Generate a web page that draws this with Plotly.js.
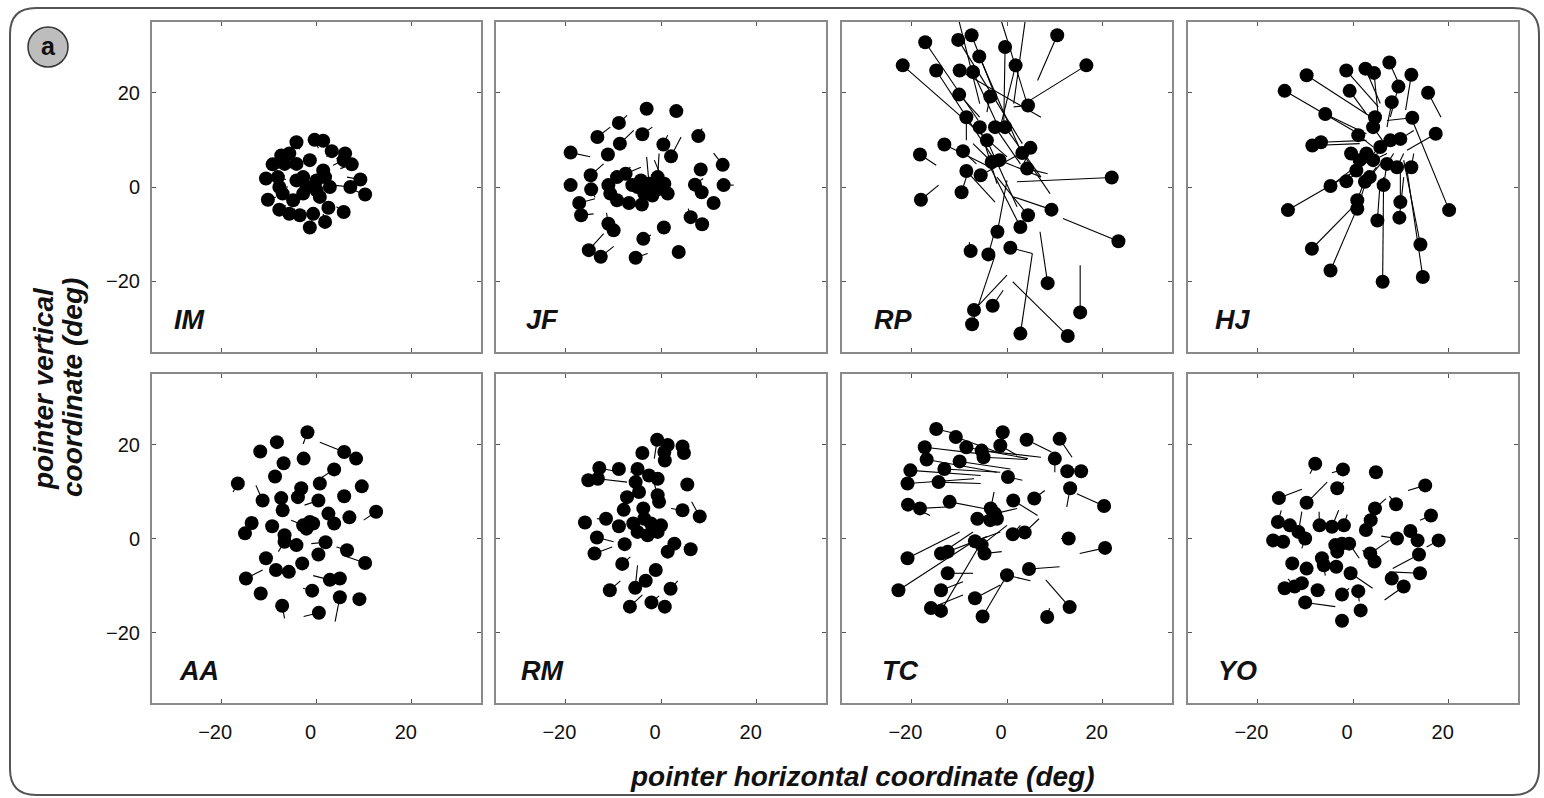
<!DOCTYPE html>
<html>
<head>
<meta charset="utf-8">
<script src="https://cdn.plot.ly/plotly-3.0.1.min.js"></script>
<style>html,body{margin:0;padding:0;background:#fff;}#chart{width:1544px;height:798px;}</style>
</head>
<body>
<div id="chart"></div>
<script>
// ---------------- DATA (degrees) : dot position (x,y) and line end (ex,ey) ----------------
const panelNames = ['IM','JF','RP','HJ','AA','RM','TC','YO'];
const tickValues = [-20, 0, 20];

const IM_x  = [-4.2,-0.4,1.4,3.2,6.0,7.4,5.7,-7.4,-5.7,-9.2,-6.7,-4.2,-1.4,1.4,-10.6,-8.1,-2.8,0,1.8,9.2,7.1,10.2,-10.2,-7.8,-4.9,-2.1,0,2.8,-7.8,-5.7,-3.5,-0.7,2.5,5.7,1.8,-1.4,-2.8,-4.2,-7.1,0.7];
const IM_y  = [9.5,10.0,9.8,7.6,7.1,4.8,5.7,6.7,7.1,4.8,4.9,4.9,5.7,3.5,1.8,2.1,2.1,1.4,2.1,1.6,0,-1.6,-2.7,0,-2.8,0,-0.7,0,-4.8,-5.7,-6.0,-5.7,-4.4,-5.3,-7.4,-8.6,-1.4,1.4,-1.4,-2.1];
const IM_ex = [-3.5,0.4,1.0,2.1,4.2,5.0,3.5,-6.0,-4.5,-7.8,-5.3,-3.2,-0.7,0.7,-9.0,-6.4,-1.8,0,1.0,6.4,3.5,7.8,-8.5,-6.0,-3.5,-1.0,0,1.8,-6.4,-4.5,-2.5,-0.4,1.8,4.2,1.4,-1.0,-1.8,-3.2,-5.7,0.4];
const IM_ey = [8.0,8.2,8.5,6.4,6.0,3.9,4.6,5.5,5.9,3.9,4.0,4.0,4.6,2.8,1.4,1.6,1.4,0.7,1.4,2.1,0.4,-0.7,-2.1,0,-2.1,0,-0.4,0,-3.9,-4.6,-4.9,-4.4,-3.5,-4.2,-5.7,-7.1,-1.0,1.0,-1.0,-1.4];

const JF_x  = [-3.0,3.2,-8.8,-13.3,-3.9,-8.6,7.8,0.5,2.1,-18.9,-11.1,12.9,8.3,-14.7,-18.9,-14.6,13.1,7.1,8.5,11.0,-17.1,-16.7,-11.0,-9.2,-7.4,-6.0,-4.2,-2.5,-0.7,0.7,1.4,-3.5,-6.7,-4.0,-9.2,-1.8,-11.0,-9.9,6.2,8.6,0.6,-3.7,-15.1,-12.6,-5.3,3.7,-10.6,-0.4,-4.9];
const JF_y  = [16.6,16.1,13.6,10.6,11.2,9.2,10.8,9.0,6.5,7.3,6.9,4.7,3.7,2.5,0.4,-0.5,0.4,0.5,-1.1,-3.4,-3.4,-6.0,0.4,2.1,2.8,0.4,1.4,0.7,2.1,0.7,-1.4,-1.4,-3.4,-3.7,-2.8,-1.8,-7.8,-9.2,-6.4,-7.9,-8.6,-11.0,-13.4,-14.8,-15.0,-13.8,-1.4,-0.4,0];
const JF_ex = [-3.0,3.2,-7.1,-10.6,-1.8,-5.7,8.6,1.4,4.2,-14.8,-11.1,11.0,8.3,-12.0,-18.9,-13.8,15.2,8.8,8.5,11.0,-13.8,-14.1,-11.0,-6.4,-4.2,-6.0,-4.2,-3.0,-0.4,-1.4,1.4,-3.5,-6.7,-4.0,-9.2,-1.8,-11.4,-9.9,5.7,8.6,0.6,-2.1,-12.0,-9.9,-2.8,3.7,-10.6,-0.4,-4.9];
const JF_ey = [16.6,16.1,15.2,12.7,12.7,12.0,12.4,11.0,10.6,6.4,6.9,7.2,3.7,4.9,0.4,-2.2,0.4,1.8,-1.1,-3.4,-2.5,-5.7,0.4,4.2,4.2,0.4,1.4,6.4,7.1,5.7,-1.4,-1.4,-3.4,-3.7,-2.8,-1.8,-5.5,-9.2,-4.6,-7.9,-8.6,-10.2,-9.9,-12.6,-14.1,-13.8,-1.4,-0.4,0];

const RP_x  = [-17.1,-10.2,-7.4,10.5,-0.4,-5.8,-21.8,-14.8,-9.9,-7.1,1.8,16.6,-3.5,-10.0,4.4,-8.5,-5.7,-2.5,-0.4,-4.2,-13.1,-9.2,-18.2,4.9,3.2,-3.2,-1.6,-8.5,-5.5,4.2,-9.5,-18.0,21.9,9.3,4.4,2.8,-2.0,23.3,-7.6,-3.9,0.7,2.8,8.5,15.3,-6.9,-3.0,-7.3,12.7,-10.6,-2.1,4.2];
const RP_y  = [30.7,31.2,32.2,32.2,29.7,27.7,25.8,24.7,24.7,24.4,25.8,25.8,19.2,19.6,17.3,14.8,12.7,12.7,12.7,9.9,9.0,7.6,6.9,8.3,7.2,5.3,5.7,3.4,2.5,3.9,-1.1,-2.7,2.0,-4.8,-6.0,-8.5,-9.5,-11.5,-13.6,-14.3,-12.9,-31.1,-20.4,-26.6,-26.1,-25.2,-29.1,-31.6,37.5,38.2,38.2];
const RP_ex = [-6.0,3.2,-2.1,6.4,-0.7,2.8,0,-2.1,7.1,-2.1,-1.4,4.2,-4.2,-5.7,1.4,-8.5,-2.1,2.8,7.1,2.1,-3.5,-6.4,-14.8,3.2,9.0,-7.1,7.1,-2.5,2.8,8.5,-8.5,-14.3,2.1,1.4,-2.1,-3.5,0,11.7,-7.9,-2.5,5.3,5.3,6.9,15.3,0,-0.8,-2.5,1.2,-5.7,4.2,1.4];
const RP_ey = [14.1,9.2,18.4,22.6,12.0,7.8,6.4,4.9,14.8,13.4,12.7,18.0,15.9,14.8,17.0,9.9,0.7,4.9,2.1,-4.2,4.2,4.9,4.6,4.2,-1.4,9.2,2.1,-3.2,7.1,2.8,2.1,0.4,1.1,-2.1,2.1,4.2,1.4,-6.7,-11.7,-9.2,-14.1,-14.1,-9.5,-16.6,-18.7,-21.9,-14.5,-20.1,17.7,17.7,17.7];

const HJ_x  = [7.6,-1.4,2.6,4.4,12.2,-9.7,-14.3,-0.7,9.5,15.7,8.1,-5.8,4.6,12.4,4.2,1.1,17.3,-8.5,-6.7,9.9,7.8,5.7,2.8,-0.4,1.4,4.2,7.1,9.2,12.2,0.7,3.5,6.4,-1.4,-4.7,2.5,0.9,0.9,-13.6,9.9,20.1,5.1,9.7,-8.6,14.1,-4.7,6.2,14.6];
const HJ_y  = [26.4,24.7,25.1,24.2,23.8,23.7,20.4,20.4,21.3,20.0,18.0,15.5,14.8,14.7,12.7,11.0,11.3,8.8,9.5,10.2,9.9,8.5,7.1,7.1,5.7,5.7,4.9,4.2,4.2,3.5,2.1,0.4,1.2,0.2,1.1,-2.8,-4.6,-4.9,-3.2,-4.9,-7.1,-6.5,-13.1,-12.2,-17.7,-20.1,-19.1];
const HJ_ex = [9.9,5.3,5.7,5.3,11.0,4.9,0,2.8,7.8,18.4,7.1,2.8,4.2,7.1,7.1,4.2,11.3,1.4,2.8,12.7,5.7,4.2,2.8,2.8,5.3,7.1,8.5,10.6,12.7,4.2,6.4,7.1,1.4,0,4.9,3.2,2.8,0.7,9.9,12.7,5.7,10.6,0,10.6,0.7,6.4,11.3];
const HJ_ey = [21.2,17.0,17.7,14.8,16.3,14.1,12.0,15.5,14.8,14.8,12.7,11.3,12.7,14.1,8.5,8.5,7.8,9.2,9.9,12.0,8.5,7.1,7.1,5.7,7.1,7.1,7.1,7.1,7.1,6.4,5.7,4.9,3.5,3.9,4.2,3.5,1.4,3.5,4.2,13.4,1.4,2.1,-4.2,5.7,-4.9,2.1,3.5];

const AA_x  = [-1.9,-8.3,-11.8,5.8,8.3,-2.7,-6.9,3.7,-8.7,-16.5,0.7,9.5,-3.2,-11.3,-7.4,-3.9,0.4,5.8,-7.1,2.5,6.9,12.5,-13.6,-15.0,-9.3,-2.8,-1.4,-0.7,-2.1,3.7,-6.7,-6.7,-4.2,1.9,6.4,0.4,-10.6,10.2,-3.0,-8.5,-5.8,-14.8,2.8,4.9,-11.7,-0.9,4.9,9.0,-7.2,0.5];
const AA_y  = [22.6,20.5,18.5,18.4,17.0,17.0,16.0,14.7,13.2,11.7,11.7,11.1,10.7,8.1,8.6,8.8,8.1,9.0,6.0,5.3,4.5,5.7,3.3,1.1,2.6,2.8,3.5,3.2,2.1,3.2,0.7,-0.7,-1.4,-0.8,-2.5,-3.4,-4.2,-5.2,-5.3,-6.7,-7.1,-8.5,-8.8,-8.5,-11.7,-11.1,-12.5,-12.9,-14.3,-15.8];
const AA_ex = [-2.8,-8.3,-11.8,0.7,8.3,-2.7,-6.9,0.7,-8.7,-17.5,0.7,9.5,-3.2,-12.7,-7.4,-3.9,-2.5,5.8,-7.1,2.5,6.9,9.9,-13.6,-15.0,-9.3,-5.3,-1.4,-0.7,-2.1,3.7,-6.7,-8.0,-4.2,-1.1,4.2,0.4,-10.6,6.4,-3.0,-8.5,-5.8,-11.3,-0.7,4.9,-11.7,-2.8,3.9,9.0,-6.7,-2.7];
const AA_ey = [20.1,20.5,18.5,20.5,17.0,17.0,16.0,12.7,13.2,9.9,11.7,11.1,10.7,11.3,8.6,8.8,7.1,9.0,6.0,5.3,4.5,3.9,3.3,1.1,2.6,3.9,3.5,3.2,2.1,3.2,0.7,-2.8,-1.4,-1.1,-1.8,-3.4,-4.2,-3.9,-5.3,-6.7,-7.1,-6.7,-7.9,-8.5,-11.7,-10.6,-17.7,-12.9,-17.0,-16.6];

const RM_x  = [-0.8,1.4,4.5,4.8,-3.9,0.7,0.8,-12.9,-8.8,-4.9,-15.2,-13.2,-2.5,-0.7,-5.3,5.5,-4.6,-7.1,-0.7,-0.4,-7.8,-3.7,4.5,8.1,-15.9,-11.5,-8.8,-5.8,-3.5,-2.1,0,-0.7,-4.9,-2.8,-13.4,-7.6,2.8,1.4,6.2,-13.9,-8.1,-1.1,-3.2,-5.4,-10.7,2.0,-6.5,-2.0,0.8];
const RM_y  = [21.0,19.9,19.6,18.2,18.2,18.4,16.6,15.0,14.8,14.8,12.4,12.7,13.4,12.7,12.0,11.5,9.9,8.8,9.2,7.8,6.1,6.4,6.0,4.7,3.4,4.2,2.6,3.2,4.2,3.2,2.8,1.4,1.4,0.7,0.2,-1.2,-1.1,-2.8,-2.3,-3.2,-5.4,-6.7,-9.0,-10.5,-11.0,-10.7,-14.5,-13.6,-14.5];
const RM_ex = [-1.4,1.4,4.5,4.8,-3.9,0.7,0.8,-8.5,-8.8,-6.4,-12.0,-7.1,-2.5,-0.7,-5.3,5.5,-4.6,-7.1,-2.1,-0.4,-7.8,-3.7,2.1,6.4,-15.9,-13.4,-8.8,-5.8,-3.5,-2.1,0,-0.7,-4.9,-2.8,-9.9,-7.6,2.8,1.4,6.2,-10.2,-6.4,-1.1,-3.2,-4.9,-8.5,3.5,-3.9,-0.4,0.8];
const RM_ey = [17.0,19.9,19.6,18.2,18.2,18.4,16.6,14.1,14.8,14.1,13.8,12.0,13.4,12.7,12.0,11.5,9.9,8.8,14.1,7.8,6.1,6.4,6.4,7.8,3.4,4.2,2.6,3.2,4.2,3.2,2.8,1.4,1.4,0.7,-0.7,-1.2,-1.1,-2.8,-2.3,-1.8,-3.9,-6.7,-9.0,-5.7,-9.0,-9.0,-12.0,-12.2,-14.5];

const TC_x  = [-14.8,-0.9,-10.7,4.1,11.0,-17.2,-8.5,-5.3,-1.4,-4.9,-16.8,-9.9,10.0,-13.1,-20.2,12.6,15.5,-20.8,-14.3,0.2,13.2,20.3,-20.7,-18.2,-12.0,1.3,5.7,-3.4,-2.5,-3.5,-6.2,1.2,3.7,12.9,20.5,-6.7,-5.3,-4.7,-13.8,-12.4,-20.8,-12.4,4.6,0,-22.7,-13.8,-6.7,-15.9,-13.8,13.1,-5.1,8.4,-2.1];
const TC_y  = [23.3,22.6,21.6,21.0,21.2,19.4,19.4,18.7,19.8,17.3,16.8,16.4,17.0,14.8,14.5,14.3,14.3,11.7,12.0,13.1,10.7,6.9,7.2,6.4,7.8,8.1,8.5,6.4,5.3,3.9,4.2,0.9,1.3,0,-2.0,-0.6,-1.4,-3.2,-3.2,-2.8,-4.2,-7.4,-6.5,-7.8,-11.0,-11.0,-12.7,-14.8,-15.4,-14.6,-16.6,-16.7,4.2];
const TC_ex = [-10.6,-0.7,-2.1,9.3,13.6,-5.5,4.4,7.1,2.1,4.2,-2.1,0.7,10.0,-1.4,-5.5,12.6,15.5,-6.9,-5.5,3.2,12.5,14.6,-16.1,-12.6,-4.8,6.4,7.9,-2.7,2.1,-2.8,-4.2,2.8,6.7,11.3,15.2,-1.4,0,-1.1,-7.1,-4.2,-9.9,-7.1,11.0,4.9,-7.1,-9.2,-1.4,-9.2,-5.7,8.1,0,8.9,-2.1];
const TC_ey = [22.3,18.4,18.4,18.4,17.3,18.0,17.0,17.3,17.7,16.8,14.1,14.8,14.1,14.1,13.4,14.3,14.3,12.7,11.7,12.4,6.7,9.5,4.9,6.7,6.4,4.9,10.2,9.9,6.4,4.9,4.9,2.8,4.2,0,-3.2,1.4,2.8,-2.8,1.4,0.4,1.4,-7.4,-6.0,-9.0,-0.7,-9.2,-9.9,-12.0,-1.4,-8.8,-7.8,-14.8,4.2];

const YO_x  = [-7.9,-2.1,4.8,15.1,-3.3,-15.5,-9.7,9.0,4.6,16.3,-15.7,-13.2,-11.4,-10.0,-16.7,-14.6,-7.0,-4.4,-1.9,3.7,2.7,9.2,12.0,13.5,17.9,-3.7,-2.3,-0.8,-3.3,3.6,4.5,13.8,-12.7,-9.7,-6.5,-6.1,-3.5,-0.5,14.0,8.1,10.6,-14.3,-12.2,-10.7,-7.4,-2.3,1.1,-10.0,1.6,-2.3];
const YO_y  = [15.9,14.7,14.1,11.3,10.7,8.6,7.6,7.3,6.4,4.9,3.5,2.8,1.4,0,-0.4,-0.7,2.8,2.5,2.8,3.9,1.8,0,1.6,-0.4,-0.4,-1.4,-1.1,-1.1,-2.8,-3.2,-4.9,-3.4,-5.3,-6.4,-4.2,-5.7,-6.0,-7.4,-7.4,-8.5,-10.2,-10.6,-10.2,-9.5,-11.0,-11.9,-11.2,-13.6,-15.3,-17.5];
const YO_ex = [-9.0,-4.4,4.8,11.5,-1.9,-10.7,-5.4,7.6,6.9,14.0,-15.0,-13.2,-10.7,-10.7,-16.7,-14.6,-7.1,-3.0,-1.2,3.7,2.7,5.9,12.0,13.5,15.4,-3.7,-2.3,1.3,-3.3,7.6,2.0,8.3,-12.7,-9.7,-6.5,-5.8,-3.5,4.1,7.6,8.1,6.6,-14.3,-13.6,-10.7,-5.8,-0.8,1.3,-3.7,1.6,-2.3];
const YO_ey = [13.8,14.0,14.1,10.2,12.0,10.5,12.0,9.0,8.5,3.9,6.0,2.8,5.7,-2.1,-0.4,-0.7,5.7,6.0,5.1,3.9,1.8,0.5,1.6,-0.4,-1.8,-1.4,-1.1,-4.2,-2.8,-0.4,-2.5,-6.4,-5.3,-6.4,-4.2,-7.9,-6.0,-10.6,-7.1,-8.5,-13.1,-10.6,-8.6,-9.5,-11.0,-10.6,-13.4,-14.5,-15.3,-17.5];

const xTitle = 'pointer horizontal coordinate (deg)';
const yTitle1 = 'pointer vertical';
const yTitle2 = 'coordinate (deg)';
const figLabel = 'a';

// ---------------- BUILD ----------------
const panelData = [
  [IM_x, IM_y, IM_ex, IM_ey], [JF_x, JF_y, JF_ex, JF_ey], [RP_x, RP_y, RP_ex, RP_ey], [HJ_x, HJ_y, HJ_ex, HJ_ey],
  [AA_x, AA_y, AA_ex, AA_ey], [RM_x, RM_y, RM_ex, RM_ey], [TC_x, TC_y, TC_ex, TC_ey], [YO_x, YO_y, YO_ex, YO_ey]
];

const W = 1544, H = 798;
const FONT = 'Liberation Sans, Arial, Helvetica, sans-serif';
const colPx = [[152, 481], [496, 826], [842, 1172], [1188, 1518]];
const rowPx = [[22, 352], [374, 703]];
const labelOffX = [0.06, 0.085, 0.09, 0.075, 0.075, 0.07, 0.115, 0.085];

const traces = [];
const layout = {
  width: W, height: H,
  margin: {l: 0, r: 0, t: 0, b: 0},
  paper_bgcolor: '#ffffff', plot_bgcolor: '#ffffff',
  showlegend: false,
  font: {family: FONT, color: '#111'},
  annotations: [], shapes: []
};

panelData.forEach((p, i) => {
  const k = i + 1;
  const xa = k === 1 ? 'x' : 'x' + k;
  const ya = k === 1 ? 'y' : 'y' + k;
  const [px, py, pex, pey] = p;
  const lx = [], ly = [];
  for (let j = 0; j < px.length; j++) {
    lx.push(px[j], pex[j], null);
    ly.push(py[j], pey[j], null);
  }
  traces.push({type: 'scatter', mode: 'lines', x: lx, y: ly, xaxis: xa, yaxis: ya,
    line: {color: '#000', width: 1.1}, hoverinfo: 'skip', connectgaps: false});
  traces.push({type: 'scatter', mode: 'markers', x: px, y: py, xaxis: xa, yaxis: ya,
    marker: {color: '#000', size: 14, line: {width: 0}}, hoverinfo: 'skip'});

  const col = i % 4, row = Math.floor(i / 4);
  const axCommon = {
    showgrid: false, zeroline: false, showline: true, linecolor: '#8a8a8a', linewidth: 2,
    mirror: 'ticks', ticks: 'inside', ticklen: 4, tickwidth: 1, tickcolor: '#555',
    tickmode: 'array', tickvals: tickValues,
    tickfont: {family: FONT, size: 20, color: '#111'}, fixedrange: true
  };
  const kx = k === 1 ? 'xaxis' : 'xaxis' + k;
  const ky = k === 1 ? 'yaxis' : 'yaxis' + k;
  layout[kx] = Object.assign({}, axCommon, {
    range: [-34.5, 34.5], anchor: ya,
    domain: [colPx[col][0] / W, colPx[col][1] / W],
    showticklabels: row === 1, ticklabelstandoff: 10, ticklabelshift: -6
  });
  layout[ky] = Object.assign({}, axCommon, {
    range: [-35, 35], anchor: xa,
    domain: [1 - rowPx[row][1] / H, 1 - rowPx[row][0] / H],
    showticklabels: col === 0, ticklabelstandoff: 6
  });
  layout.annotations.push({
    text: '<b><i>' + panelNames[i] + '</i></b>',
    xref: xa + ' domain', yref: ya + ' domain', x: labelOffX[i], y: 0.045,
    xanchor: 'left', yanchor: 'bottom', showarrow: false,
    font: {family: FONT, size: 27, color: '#111'}
  });
});

// axis titles
layout.annotations.push({
  text: '<b><i>' + xTitle + '</i></b>', xref: 'paper', yref: 'paper',
  x: 862 / W, y: 1 - 776 / H, xanchor: 'center', yanchor: 'middle', showarrow: false,
  font: {family: FONT, size: 28, color: '#111'}
});
layout.annotations.push({
  text: '<b><i>' + yTitle1 + '</i></b>', xref: 'paper', yref: 'paper',
  x: 43 / W, y: 1 - 389 / H, xanchor: 'center', yanchor: 'middle', textangle: -90, showarrow: false,
  font: {family: FONT, size: 28, color: '#111'}
});
layout.annotations.push({
  text: '<b><i>' + yTitle2 + '</i></b>', xref: 'paper', yref: 'paper',
  x: 72 / W, y: 1 - 388 / H, xanchor: 'center', yanchor: 'middle', textangle: -90, showarrow: false,
  font: {family: FONT, size: 28, color: '#111'}
});

// figure label circle "a"
layout.shapes.push({
  type: 'circle', xref: 'paper', yref: 'paper',
  x0: 28 / W, x1: 68 / W, y0: 1 - 67 / H, y1: 1 - 27 / H,
  fillcolor: '#bdbdbd', line: {color: '#333', width: 1.5}, layer: 'below'
});
layout.annotations.push({
  text: '<b>' + figLabel + '</b>', xref: 'paper', yref: 'paper',
  x: 48 / W, y: 1 - 46 / H, xanchor: 'center', yanchor: 'middle', showarrow: false,
  font: {family: FONT, size: 25, color: '#111'}
});

// rounded outer frame
(function () {
  const L = 10 / W, R = 1539 / W, T = 1 - 8 / H, B = 1 - 795 / H;
  const rx = 26 / W, ry = 26 / H;
  const f = v => v.toFixed(5);
  const path = 'M ' + f(L + rx) + ',' + f(T) +
    ' L ' + f(R - rx) + ',' + f(T) + ' Q ' + f(R) + ',' + f(T) + ' ' + f(R) + ',' + f(T - ry) +
    ' L ' + f(R) + ',' + f(B + ry) + ' Q ' + f(R) + ',' + f(B) + ' ' + f(R - rx) + ',' + f(B) +
    ' L ' + f(L + rx) + ',' + f(B) + ' Q ' + f(L) + ',' + f(B) + ' ' + f(L) + ',' + f(B + ry) +
    ' L ' + f(L) + ',' + f(T - ry) + ' Q ' + f(L) + ',' + f(T) + ' ' + f(L + rx) + ',' + f(T) + ' Z';
  layout.shapes.push({type: 'path', xref: 'paper', yref: 'paper', path: path,
    line: {color: '#555', width: 2}, fillcolor: 'rgba(0,0,0,0)', layer: 'below'});
})();

Plotly.newPlot('chart', traces, layout, {displayModeBar: false, staticPlot: true});
</script>
</body>
</html>
